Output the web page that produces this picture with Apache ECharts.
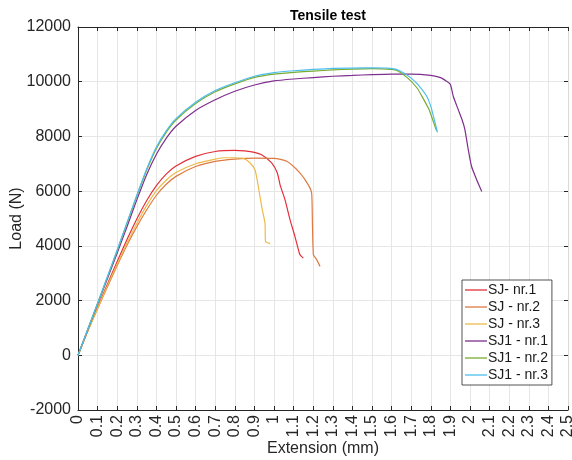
<!DOCTYPE html>
<html>
<head>
<meta charset="UTF-8">
<title>Tensile test</title>
<script src="https://cdn.jsdelivr.net/npm/echarts@6/dist/echarts.min.js"></script>
<style>
html,body{margin:0;padding:0;background:#fff;}
#main{width:572px;height:460px;}
</style>
</head>
<body>
<div id="main"></div>
<script type="text/javascript">
// extension (mm) and load (N)
var sjNr1X = [0,0.05,0.1,0.15,0.2,0.25,0.3,0.35,0.4,0.45,0.5,0.6,0.7,0.8,0.85,0.9,0.937,0.988,1.017,1.031,1.056,1.082,1.107,1.129,1.135,1.15];
var sjNr1Y = [0,900,1750,2600,3430,4230,4980,5650,6200,6620,6920,7270,7450,7490,7470,7420,7330,7030,6660,6230,5690,4950,4340,3740,3650,3550];

var sjNr2X = [0,0.05,0.1,0.15,0.2,0.25,0.3,0.35,0.4,0.45,0.5,0.6,0.7,0.8,0.9,1.0,1.065,1.133,1.175,1.192,1.196,1.201,1.213,1.235];
var sjNr2Y = [0,890,1700,2500,3280,4020,4700,5310,5850,6250,6540,6900,7090,7170,7210,7200,7090,6660,6230,5930,4830,3670,3550,3250];

var sjNr3X = [0,0.05,0.1,0.15,0.2,0.25,0.3,0.35,0.4,0.45,0.5,0.6,0.7,0.75,0.8,0.844,0.878,0.903,0.92,0.937,0.954,0.957,0.98];
var sjNr3Y = [0,895,1720,2540,3340,4100,4820,5470,6020,6400,6680,7000,7170,7220,7220,7200,7030,6780,6170,5440,4830,4160,4080];

var sj1Nr1X = [0,0.05,0.1,0.15,0.2,0.25,0.3,0.35,0.4,0.45,0.5,0.6,0.7,0.8,0.9,1.0,1.1,1.2,1.3,1.4,1.5,1.6,1.7,1.8,1.85,1.88,1.9,1.915,1.94,1.96,1.974,1.991,2.008,2.034,2.06];
var sj1Nr1Y = [0,940,1870,2800,3740,4700,5680,6600,7350,7930,8370,8950,9340,9650,9880,10030,10100,10150,10200,10230,10260,10280,10280,10230,10150,10020,9900,9460,8980,8600,8250,7520,6900,6420,5990];

var sj1Nr2X = [0,0.05,0.1,0.15,0.2,0.25,0.3,0.35,0.4,0.45,0.5,0.6,0.7,0.8,0.9,1.0,1.1,1.2,1.3,1.4,1.5,1.6,1.63,1.68,1.73,1.76,1.79,1.81,1.83];
var sj1Nr2Y = [0,950,1900,2860,3830,4830,5820,6760,7560,8150,8600,9200,9630,9920,10160,10280,10340,10390,10430,10460,10480,10450,10400,10150,9770,9400,9000,8600,8200];

var sj1Nr3X = [0,0.05,0.1,0.15,0.2,0.25,0.3,0.35,0.4,0.45,0.5,0.6,0.7,0.8,0.9,1.0,1.1,1.2,1.3,1.4,1.5,1.58,1.62,1.66,1.7,1.74,1.78,1.8,1.82,1.834];
var sj1Nr3Y = [0,950,1900,2870,3850,4850,5850,6800,7610,8200,8650,9250,9680,9960,10200,10330,10400,10450,10490,10500,10510,10500,10460,10330,10130,9850,9460,9100,8550,8150];

var names = ['SJ- nr.1','SJ - nr.2','SJ - nr.3','SJ1 - nr.1','SJ1 - nr.2','SJ1 - nr.3'];
var xs = [sjNr1X, sjNr2X, sjNr3X, sj1Nr1X, sj1Nr2X, sj1Nr3X];
var ys = [sjNr1Y, sjNr2Y, sjNr3Y, sj1Nr1Y, sj1Nr2Y, sj1Nr3Y];
var colors = ['#e2303a','#dd7a42','#edba4a','#7e2f8e','#77ac30','#4dbeee'];

function zip(a, b){
	var out = [];
	for (var i = 0; i < a.length; i++) out.push([a[i], b[i]]);
	return out;
}

var series = [];
for (var i = 0; i < names.length; i++) {
	series.push({
		name: names[i],
		type: 'line',
		data: zip(xs[i], ys[i]),
		showSymbol: false,
		smooth: 0.2,
		lineStyle: {width: 1.2, color: colors[i]},
		itemStyle: {color: colors[i]}
	});
}

var font = 'Liberation Sans, Arial, sans-serif';
var axisDark = '#262626';

var myChart = echarts.init(document.getElementById('main'));
myChart.setOption({
	animation: false,
	backgroundColor: '#fff',
	title: {
		text: 'Tensile test',
		left: 323,
		top: 4,
		textAlign: 'center',
		textStyle: {fontFamily: font, fontSize: 14, fontWeight: 'bold', color: '#000'}
	},
	legend: {
		data: names,
		orient: 'vertical',
		left: 462,
		top: 280,
		icon: 'rect',
		itemWidth: 22,
		itemHeight: 1.3,
		itemGap: 3,
		padding: [3, 4, 3, 3],
		backgroundColor: '#fff',
		borderColor: axisDark,
		borderWidth: 0.8,
		borderRadius: 0,
		textStyle: {fontFamily: font, fontSize: 14, color: '#1a1a1a', lineHeight: 14, padding: [0, 0, 0, -4]}
	},
	grid: {left: 78, right: 4, top: 27, bottom: 50, containLabel: false, outerBoundsMode: 'none'},
	xAxis: [{
		type: 'value',
		min: 0, max: 2.5, interval: 0.1,
		name: 'Extension (mm)',
		nameLocation: 'middle',
		nameGap: 31,
		nameMoveOverlap: false,
		nameTextStyle: {fontFamily: font, fontSize: 16, color: '#262626'},
		axisLine: {onZero: false, lineStyle: {color: axisDark, width: 1}},
		axisTick: {inside: true, length: 4, lineStyle: {color: axisDark}},
		axisLabel: {rotate: 90, interval: 0, margin: 5, fontFamily: font, fontSize: 16, color: '#262626'},
		splitLine: {show: true, lineStyle: {color: '#e6e6e6', width: 1}}
	}, {
		type: 'value',
		position: 'top',
		min: 0, max: 2.5, interval: 0.1,
		axisLine: {onZero: false, lineStyle: {color: axisDark, width: 1}},
		axisTick: {inside: true, length: 4, lineStyle: {color: axisDark}},
		axisLabel: {show: false},
		splitLine: {show: false}
	}],
	yAxis: [{
		type: 'value',
		min: -2000, max: 12000, interval: 2000,
		name: 'Load (N)',
		nameLocation: 'middle',
		nameGap: 53,
		nameMoveOverlap: false,
		nameTextStyle: {fontFamily: font, fontSize: 16, color: '#262626'},
		axisLine: {show: true, onZero: false, lineStyle: {color: axisDark, width: 1}},
		axisTick: {show: true, inside: true, length: 4, lineStyle: {color: axisDark}},
		axisLabel: {margin: 7, fontFamily: font, fontSize: 16, color: '#262626',
			formatter: function (v) { return String(v); }},
		splitLine: {show: true, lineStyle: {color: '#e6e6e6', width: 1}}
	}, {
		type: 'value',
		position: 'right',
		min: -2000, max: 12000, interval: 2000,
		axisLine: {show: true, onZero: false, lineStyle: {color: '#d9d9d9', width: 1}},
		axisTick: {show: true, inside: true, length: 4, lineStyle: {color: axisDark}},
		axisLabel: {show: false},
		splitLine: {show: false}
	}],
	series: series
});
</script>
</body>
</html>
